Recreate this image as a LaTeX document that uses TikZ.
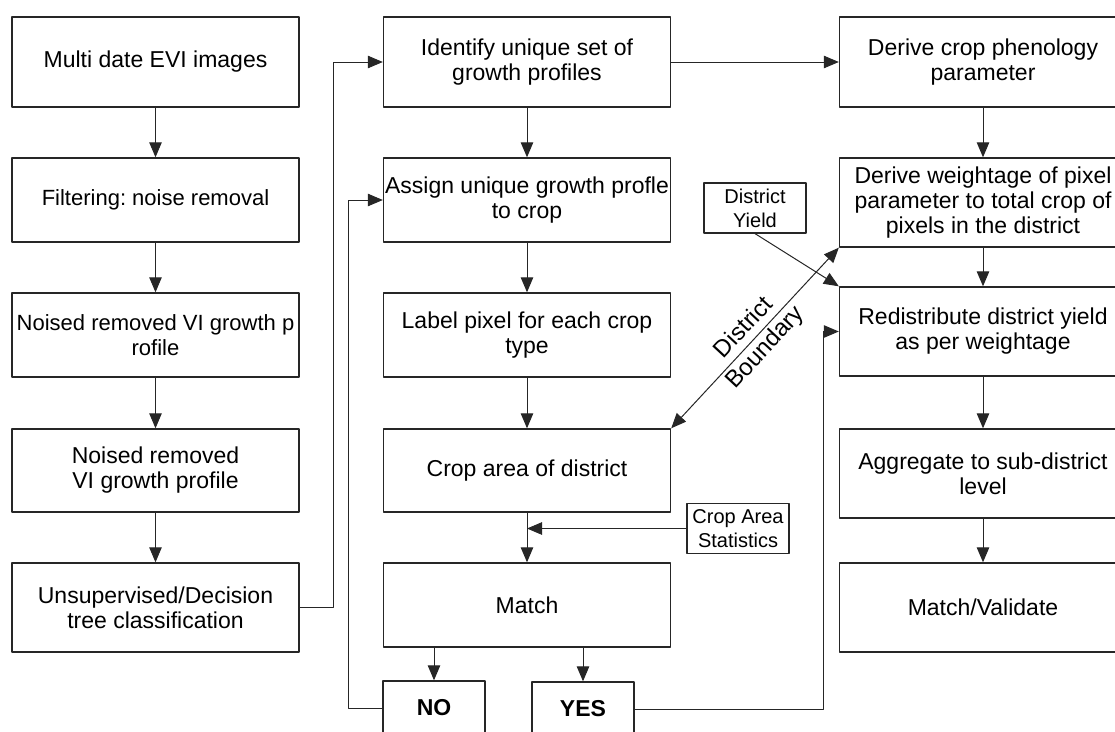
\documentclass[tikz,border=0pt]{standalone}
\usepackage{fontspec}
\setmainfont{Liberation Sans}
\usetikzlibrary{arrows.meta}
\frenchspacing

\begin{document}
\begin{tikzpicture}[x=1pt, y=-1pt, line join=round,
    >={Triangle[length=15pt,width=12.5pt]},
    box/.style={draw=black!85, line width=1.4pt, minimum width=287pt,
      minimum height=#1, align=center, inner sep=0pt,
      font=\fontsize{23}{25}\selectfont},
    box/.default=86pt,
    tag/.style={draw=black!85, line width=1.2pt, minimum width=102pt,
      minimum height=50pt, align=center, inner sep=0pt,
      font=\fontsize{20}{24}\selectfont},
    answer/.style={draw=black!85, line width=1.4pt, minimum width=102pt,
      minimum height=54pt, inner sep=0pt,
      font=\fontsize{23}{25}\selectfont\bfseries},
    link/.style={->, draw=black!85, line width=1pt}]

  \useasboundingbox (0,0) rectangle (1115,731);
  \clip (0,0) rectangle (1115,731);

  % first column
  \node[box=90pt] (evi) at (155.5,62) {Multi date EVI images};
  \node[box=84pt, font=\fontsize{22}{25}\selectfont] (filt) at (155.5,200) {Filtering: noise removal};
  \node[box=84pt, font=\fontsize{22}{25}\selectfont] (nrp) at (155.5,335) {Noised removed VI growth p\\rofile};
  \node[box=83pt] (nrv) at (155.5,470.5) {Noised removed\\VI growth profile};
  \node[box=89pt] (cls) at (155.5,607.5) {Unsupervised/Decision\\tree classification};

  % second column
  \node[box=90pt] (uniq) at (527,62) {Identify unique set of\\growth profiles};
  \node[box=84pt] (assign) at (527,200) {Assign unique growth profle\\to crop};
  \node[box=84pt] (label) at (527,335) {Label pixel for each crop\\type};
  \node[box=83pt] (area) at (527,470.5) {Crop area of district};
  \node[box=84pt] (match) at (527,605) {Match};
  \node[answer] (no) at (434,708) {NO};
  \node[answer] (yes) at (583,709) {YES};

  % third column
  \node[box=90pt] (pheno) at (983,62) {Derive crop phenology\\parameter};
  \node[box=89pt] (weight) at (983,202.5) {Derive weightage of pixel\\parameter to total crop of\\pixels in the district};
  \node[box=89pt] (redist) at (983,331.5) {Redistribute district yield\\as per weightage};
  \node[box=89pt] (aggr) at (983,473.5) {Aggregate to sub-district\\level};
  \node[box=89pt] (valid) at (983,607.5) {Match/Validate};

  % inputs
  \node[tag] (yield) at (755,208) {District\\Yield};
  \node[tag] (stats) at (738,528.5) {Crop Area\\Statistics};

  \draw[link] (evi) -- (filt);
  \draw[link] (filt) -- (nrp);
  \draw[link] (nrp) -- (nrv);
  \draw[link] (nrv) -- (cls);
  \draw[link] (cls.east) -- ++(34,0) |- (uniq.west);

  \draw[link] (uniq) -- (pheno);
  \draw[link] (uniq) -- (assign);
  \draw[link] (assign) -- (label);
  \draw[link] (label) -- (area);
  \draw[link] (area) -- (match);
  \draw[link] (stats.west) -- (stats.west -| area.south);
  \draw[link] (no.north |- match.south) -- (no.north);
  \draw[link] (yes.north |- match.south) -- (yes.north);
  \draw[link] (no.west) -- ++(-34,0) |- (assign.west);
  \draw[link] (yes.east) -- ++(189,0) |- (redist.west);

  \draw[link] (pheno) -- (weight);
  \draw[link] (weight) -- (redist);
  \draw[link] (redist) -- (aggr);
  \draw[link] (aggr) -- (valid);

  \draw[link] (yield.south) -- (redist.north west);
  \draw[link, <->] (area.north east) -- node[sloped, align=center,
    font=\fontsize{24}{29}\selectfont] {District\\Boundary} (weight.south west);
\end{tikzpicture}
\end{document}
